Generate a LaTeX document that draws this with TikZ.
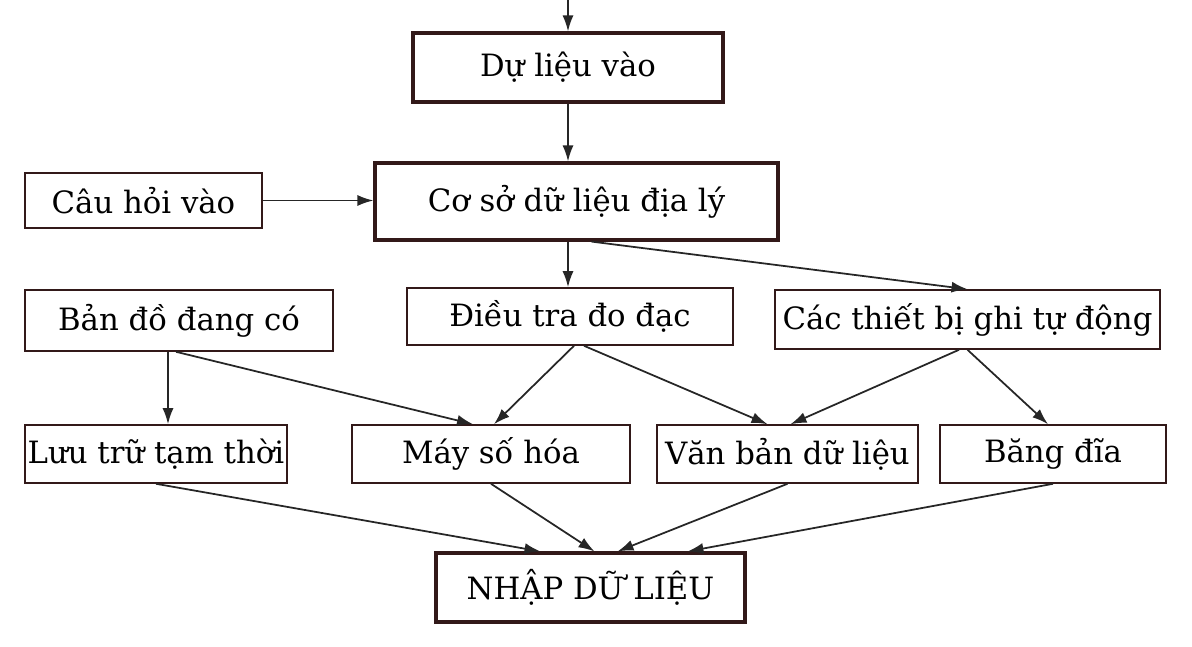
\documentclass[tikz,border=0pt]{standalone}
\usepackage{fontspec}
\setmainfont{DejaVu Serif}
\usepackage{tikz}
\usetikzlibrary{calc,positioning,arrows.meta}

\definecolor{boxcol}{RGB}{50,25,25}

\begin{document}
\begin{tikzpicture}[x=0.02cm,y=-0.02cm,inner sep=0mm,font=\fontsize{17.5}{20}\selectfont,
  box/.style={draw=boxcol,line width=0.9pt,minimum height=1.16cm},
  bigbox/.style={draw=boxcol,line width=1.8pt},
  link/.style={-{Latex[length=3.2mm,width=2.2mm]},line width=1pt,draw=black!85}]
\useasboundingbox (0,0) rectangle (1192,646);

\coordinate (in) at (568,0);
\node[bigbox,minimum width=6.2cm,minimum height=1.38cm] (vao) at (568,67.5) {Dự liệu vào};
\node[bigbox,minimum width=8.06cm,minimum height=1.54cm] (csdl) at (576.5,201.5) {Cơ sở dữ liệu địa lý};
\node[box,minimum width=4.74cm,minimum height=1.1cm] (cauhoi) at (143.5,200.5) {Câu hỏi vào};

\node[box,minimum width=6.16cm,minimum height=1.22cm] (bando) at (179,320.5) {Bản đồ đang có};
\node[box,minimum width=6.52cm,minimum height=1.14cm] (dieutra) at (570,316.5) {Điều tra đo đạc};
\node[box,minimum width=7.7cm,minimum height=1.18cm] (thietbi) at (967.5,319.5) {Các thiết bị ghi tự động};

\node[box,minimum width=5.24cm] (luutru) at (156,454) {Lưu trữ tạm thời};
\node[box,minimum width=5.56cm] (mayso) at (491,454) {Máy số hóa};
\node[box,minimum width=5.22cm] (vanban) at (787.5,454) {Văn bản dữ liệu};
\node[box,minimum width=4.52cm] (bangdia) at (1053,454) {Băng đĩa};

\node[bigbox,minimum width=6.18cm,minimum height=1.38cm] (nhap) at (590.5,587.5) {NHẬP DỮ LIỆU};

% luong du lieu
\draw[link] (in) -- (vao.north);
\draw[link] (vao.south) -- (vao.south |- csdl.north);
\draw[link] (cauhoi.east) -- (cauhoi.east -| csdl.west);
\draw[link] (csdl.south -| 568,0) -- (dieutra.north -| 568,0);
\draw[link] ([xshift=0.3cm]csdl.south) -- (thietbi.north);

\draw[link] ([xshift=-0.22cm]bando.south) -- (luutru.north -| 168,0);
\draw[link] ([xshift=-0.06cm]bando.south) -- ([xshift=-0.36cm]mayso.north);
\draw[link] ([xshift=0.08cm]dieutra.south) -- ([xshift=0.06cm]mayso.north);
\draw[link] ([xshift=0.28cm]dieutra.south) -- ([xshift=-0.4cm]vanban.north);
\draw[link] ([xshift=-0.17cm]thietbi.south) -- ([xshift=0.06cm]vanban.north);
\draw[link] (thietbi.south) -- ([xshift=-0.1cm]bangdia.north);

\draw[link] (luutru.south) -- ([xshift=-1cm]nhap.north);
\draw[link] (mayso.south) -- ([xshift=0.08cm]nhap.north);
\draw[link] (vanban.south) -- ([xshift=0.54cm]nhap.north);
\draw[link] (bangdia.south) -- ([xshift=1.94cm]nhap.north);

\end{tikzpicture}
\end{document}
